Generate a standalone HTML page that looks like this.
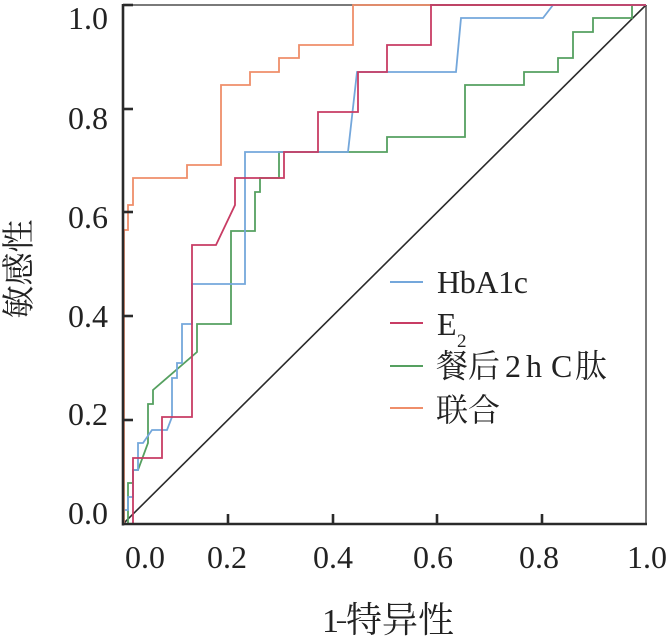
<!DOCTYPE html>
<html><head><meta charset="utf-8"><style>
html,body{margin:0;padding:0;background:#fff;}
svg{display:block;}
text{font-family:"Liberation Serif","Noto Serif CJK SC",serif;fill:#222;}
</style></head><body>
<svg width="668" height="637" viewBox="0 0 668 637" xmlns="http://www.w3.org/2000/svg">
<!-- frame -->
<line x1="123" y1="5" x2="646" y2="5" stroke="#7a7a7a" stroke-width="2"/>
<line x1="646" y1="5" x2="646" y2="525" stroke="#7a7a7a" stroke-width="2"/>
<!-- diagonal -->
<line x1="123" y1="524" x2="646" y2="5" stroke="#2a2a2a" stroke-width="1.6"/>
<!-- curves -->
<g fill="none" stroke-width="1.8" stroke-linejoin="miter">
<path stroke="#55a060" d="M123,524 L128,524 L128,483 L133,483 L133,470 L138,470 L148,443 L148,404 L153,404 L153,390 L197,352 L197,324 L231,324 L231,231 L255,231 L255,192 L260,192 L260,178 L279,178 L279,152 L387,152 L387,137 L465,137 L465,85 L524,85 L524,72 L558,72 L558,58 L573,58 L573,32 L593,32 L593,18 L632,18 L632,5 L646,5"/>
<path stroke="#74a7db" d="M123,524 L124,524 L124,510 L128,510 L128,497 L133,497 L133,470 L138,470 L138,443 L143,443 L152,430 L167,430 L172,417 L172,378 L177,378 L177,363 L182,363 L182,324 L192,324 L192,284 L245,284 L245,152 L348,152 L357,72 L456,72 L461,18 L543,18 L553,5 L646,5"/>
<path stroke="#c83c64" d="M123,524 L133,524 L133,458 L162,458 L162,417 L192,417 L192,245 L216,245 L235,205 L235,178 L284,178 L284,152 L318,152 L318,112 L358,112 L358,72 L387,72 L387,45 L431,45 L431,5 L646,5"/>
<path stroke="#ef8e6a" d="M123,524 L124,524 L124,230 L128,230 L128,205 L133,205 L133,178 L187,178 L187,165 L221,165 L221,85 L250,85 L250,72 L279,72 L279,58 L299,58 L299,45 L353,45 L353,5 L430,5"/>
</g>
<!-- axes -->
<line x1="123" y1="4" x2="123" y2="525.5" stroke="#2a2a2a" stroke-width="2.6"/>
<line x1="122" y1="524" x2="647" y2="524" stroke="#2a2a2a" stroke-width="2.6"/>
<g stroke="#2a2a2a" stroke-width="2.6">
<line x1="123" y1="5" x2="133" y2="5"/>
<line x1="123" y1="109" x2="133" y2="109"/>
<line x1="123" y1="212" x2="133" y2="212"/>
<line x1="123" y1="316" x2="133" y2="316"/>
<line x1="123" y1="420" x2="133" y2="420"/>
<line x1="228" y1="524" x2="228" y2="514"/>
<line x1="333" y1="524" x2="333" y2="514"/>
<line x1="437" y1="524" x2="437" y2="514"/>
<line x1="542" y1="524" x2="542" y2="514"/>
</g>
<!-- y tick labels -->
<g font-size="32" text-anchor="end">
<text x="108" y="29">1.0</text>
<text x="108" y="129">0.8</text>
<text x="108" y="228">0.6</text>
<text x="108" y="327">0.4</text>
<text x="108" y="425">0.2</text>
<text x="108" y="524">0.0</text>
</g>
<!-- x tick labels -->
<g font-size="32" text-anchor="middle">
<text x="145" y="568">0.0</text>
<text x="227" y="568">0.2</text>
<text x="333" y="568">0.4</text>
<text x="433" y="568">0.6</text>
<text x="539" y="568">0.8</text>
<text x="647" y="568">1.0</text>
</g>
<!-- axis titles -->
<text x="322" y="632" font-size="34">1</text>
<text x="337" y="630" font-size="34" textLength="9" lengthAdjust="spacingAndGlyphs">–</text>
<text x="346" y="632" font-size="36">特异性</text>
<text transform="translate(30,269) rotate(-90)" font-size="33" text-anchor="middle">敏感性</text>
<!-- legend -->
<g stroke-width="2">
<line x1="390" y1="282" x2="423" y2="282" stroke="#74a7db"/>
<line x1="390" y1="323" x2="423" y2="323" stroke="#c83c64"/>
<line x1="390" y1="366" x2="423" y2="366" stroke="#55a060"/>
<line x1="390" y1="408" x2="423" y2="408" stroke="#ef8e6a"/>
</g>
<text x="437" y="293" font-size="32" textLength="91" lengthAdjust="spacing">HbA1c</text>
<text x="437" y="335" font-size="32">E</text>
<text x="457" y="347" font-size="19">2</text>
<text x="436" y="377" font-size="32">餐后</text>
<text x="505" y="377" font-size="32">2</text>
<text x="526" y="377" font-size="32">h</text>
<text x="551" y="377" font-size="32">C</text>
<text x="575" y="377" font-size="32">肽</text>
<text x="436" y="421" font-size="32">联合</text>
</svg>
</body></html>
